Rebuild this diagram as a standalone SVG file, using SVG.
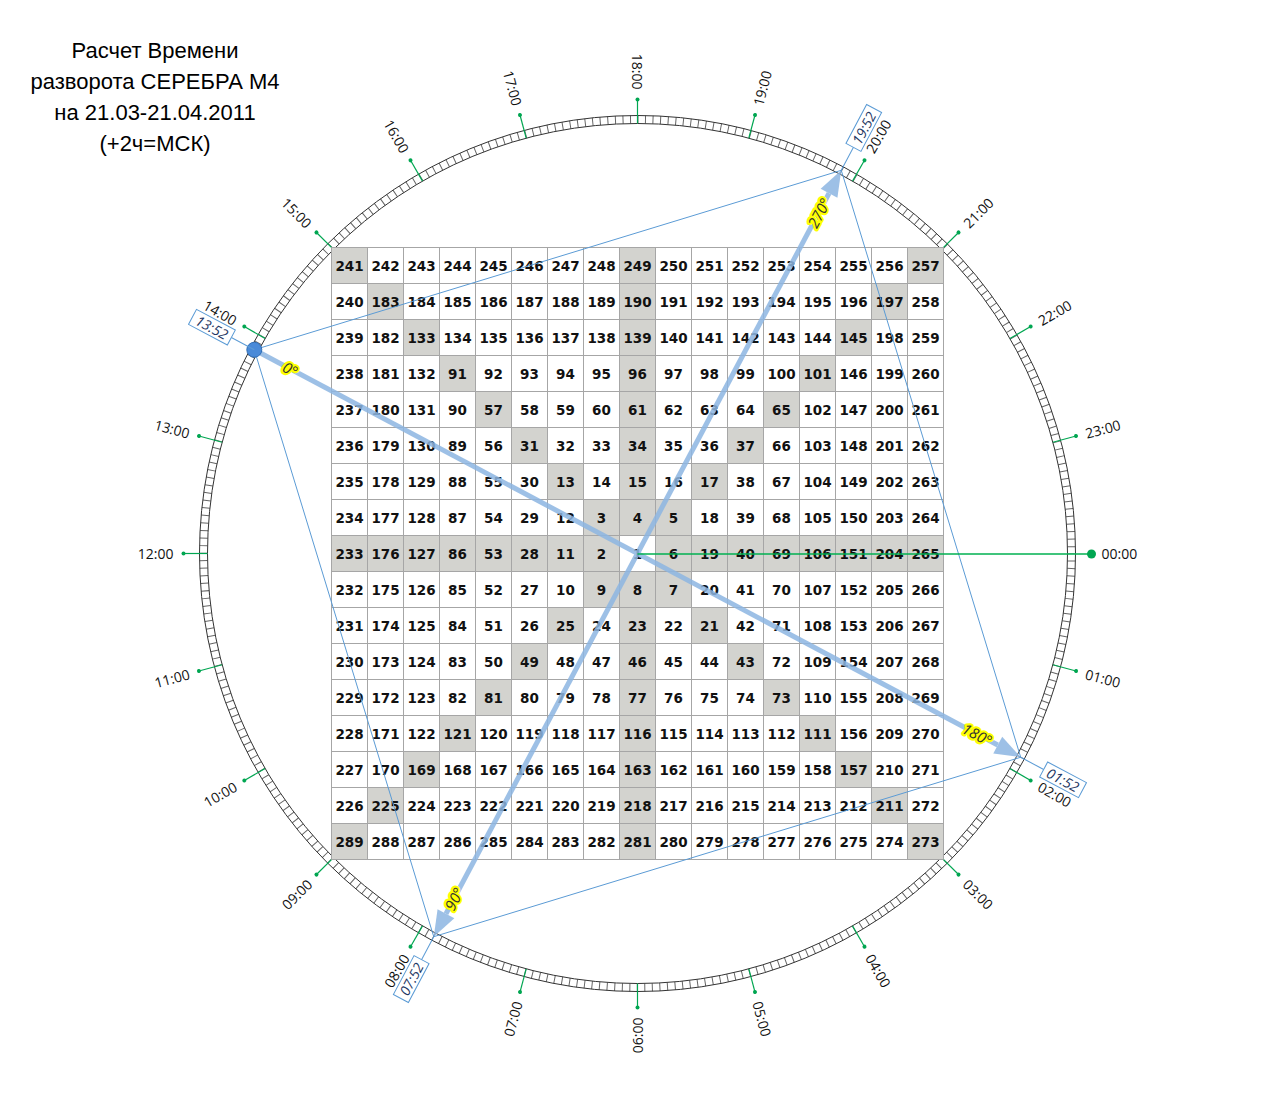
<svg xmlns="http://www.w3.org/2000/svg" width="1275" height="1108" viewBox="0 0 1275 1108">
<style>
.title{font-family:"Liberation Sans",Arial,sans-serif;font-size:22px;fill:#000;text-anchor:middle}
.num{font-family:"DejaVu Sans",Verdana,sans-serif;font-weight:bold;font-size:13.5px;fill:#111;text-anchor:middle}
.sh{fill:#d3d3cf}
.grid{fill:none;stroke:#a6a6a6;stroke-width:1}
.hr{font-family:"Open Sans","Liberation Sans",sans-serif;font-size:14px;fill:#111;dominant-baseline:central}
.hs{text-anchor:start}
.he{text-anchor:end}
.tick line{stroke:#00a651;stroke-width:1.2}
.tick circle{fill:#00a651}
.thin{stroke:#5b9bd5;stroke-width:1;fill:none}
.box rect{fill:#fff;stroke:#5b9bd5;stroke-width:1}
.box text{font-family:"Open Sans","Liberation Sans",sans-serif;font-style:italic;font-size:14px;fill:#1f3864;text-anchor:middle;dominant-baseline:central}
.thick{stroke:#8db6e2;stroke-width:5;fill:none}
.deg{font-family:"Open Sans","Liberation Sans",sans-serif;font-style:italic;font-size:15px;fill:#333;stroke:#ffff00;stroke-width:4.5;stroke-linejoin:round;paint-order:stroke;text-anchor:middle;dominant-baseline:central}
</style>
<defs>
<marker id="ah" viewBox="0 -10 26 20" refX="0" refY="0" markerWidth="26" markerHeight="20" markerUnits="userSpaceOnUse" orient="auto-start-reverse" overflow="visible">
<path d="M0,-9.5 L26,0 L0,9.5 Z" fill="#8db6e2"/>
</marker>
</defs>
<rect width="1275" height="1108" fill="#fff"/>

<g id="title">
<text class="title" x="155" y="58">Расчет Времени</text>
<text class="title" x="155" y="89">разворота СЕРЕБРА М4</text>
<text class="title" x="155" y="120">на 21.03-21.04.2011</text>
<text class="title" x="155" y="151">(+2ч=МСК)</text>
</g>

<g id="dial">
<circle cx="637.5" cy="553.5" r="434" fill="none" stroke="#666" stroke-width="8" stroke-dasharray="1 6.57473" stroke-dashoffset="0.5"/>
<circle cx="637.5" cy="553.5" r="430" fill="none" stroke="#333" stroke-width="1"/>
<circle cx="637.5" cy="553.5" r="438" fill="none" stroke="#333" stroke-width="1"/>
</g>

<g id="hour-ticks" class="tick">
<g transform="rotate(15 637.5 553.5)"><line x1="1067.5" y1="553.5" x2="1091.5" y2="553.5"/><circle cx="1091.5" cy="553.5" r="2"/></g>
<g transform="rotate(30 637.5 553.5)"><line x1="1067.5" y1="553.5" x2="1091.5" y2="553.5"/><circle cx="1091.5" cy="553.5" r="2"/></g>
<g transform="rotate(45 637.5 553.5)"><line x1="1067.5" y1="553.5" x2="1091.5" y2="553.5"/><circle cx="1091.5" cy="553.5" r="2"/></g>
<g transform="rotate(60 637.5 553.5)"><line x1="1067.5" y1="553.5" x2="1091.5" y2="553.5"/><circle cx="1091.5" cy="553.5" r="2"/></g>
<g transform="rotate(75 637.5 553.5)"><line x1="1067.5" y1="553.5" x2="1091.5" y2="553.5"/><circle cx="1091.5" cy="553.5" r="2"/></g>
<g transform="rotate(90 637.5 553.5)"><line x1="1067.5" y1="553.5" x2="1091.5" y2="553.5"/><circle cx="1091.5" cy="553.5" r="2"/></g>
<g transform="rotate(105 637.5 553.5)"><line x1="1067.5" y1="553.5" x2="1091.5" y2="553.5"/><circle cx="1091.5" cy="553.5" r="2"/></g>
<g transform="rotate(120 637.5 553.5)"><line x1="1067.5" y1="553.5" x2="1091.5" y2="553.5"/><circle cx="1091.5" cy="553.5" r="2"/></g>
<g transform="rotate(135 637.5 553.5)"><line x1="1067.5" y1="553.5" x2="1091.5" y2="553.5"/><circle cx="1091.5" cy="553.5" r="2"/></g>
<g transform="rotate(150 637.5 553.5)"><line x1="1067.5" y1="553.5" x2="1091.5" y2="553.5"/><circle cx="1091.5" cy="553.5" r="2"/></g>
<g transform="rotate(165 637.5 553.5)"><line x1="1067.5" y1="553.5" x2="1091.5" y2="553.5"/><circle cx="1091.5" cy="553.5" r="2"/></g>
<g transform="rotate(180 637.5 553.5)"><line x1="1067.5" y1="553.5" x2="1091.5" y2="553.5"/><circle cx="1091.5" cy="553.5" r="2"/></g>
<g transform="rotate(195 637.5 553.5)"><line x1="1067.5" y1="553.5" x2="1091.5" y2="553.5"/><circle cx="1091.5" cy="553.5" r="2"/></g>
<g transform="rotate(210 637.5 553.5)"><line x1="1067.5" y1="553.5" x2="1091.5" y2="553.5"/><circle cx="1091.5" cy="553.5" r="2"/></g>
<g transform="rotate(225 637.5 553.5)"><line x1="1067.5" y1="553.5" x2="1091.5" y2="553.5"/><circle cx="1091.5" cy="553.5" r="2"/></g>
<g transform="rotate(240 637.5 553.5)"><line x1="1067.5" y1="553.5" x2="1091.5" y2="553.5"/><circle cx="1091.5" cy="553.5" r="2"/></g>
<g transform="rotate(255 637.5 553.5)"><line x1="1067.5" y1="553.5" x2="1091.5" y2="553.5"/><circle cx="1091.5" cy="553.5" r="2"/></g>
<g transform="rotate(270 637.5 553.5)"><line x1="1067.5" y1="553.5" x2="1091.5" y2="553.5"/><circle cx="1091.5" cy="553.5" r="2"/></g>
<g transform="rotate(285 637.5 553.5)"><line x1="1067.5" y1="553.5" x2="1091.5" y2="553.5"/><circle cx="1091.5" cy="553.5" r="2"/></g>
<g transform="rotate(300 637.5 553.5)"><line x1="1067.5" y1="553.5" x2="1091.5" y2="553.5"/><circle cx="1091.5" cy="553.5" r="2"/></g>
<g transform="rotate(315 637.5 553.5)"><line x1="1067.5" y1="553.5" x2="1091.5" y2="553.5"/><circle cx="1091.5" cy="553.5" r="2"/></g>
<g transform="rotate(330 637.5 553.5)"><line x1="1067.5" y1="553.5" x2="1091.5" y2="553.5"/><circle cx="1091.5" cy="553.5" r="2"/></g>
<g transform="rotate(345 637.5 553.5)"><line x1="1067.5" y1="553.5" x2="1091.5" y2="553.5"/><circle cx="1091.5" cy="553.5" r="2"/></g>
</g>

<g id="hour-labels" class="hr">
<text class="hs" x="1101.5" y="553.5">00:00</text>
<text class="hs" x="1101.5" y="553.5" transform="rotate(15 637.5 553.5)">01:00</text>
<text class="hs" x="1101.5" y="553.5" transform="rotate(30 637.5 553.5)">02:00</text>
<text class="hs" x="1101.5" y="553.5" transform="rotate(45 637.5 553.5)">03:00</text>
<text class="hs" x="1101.5" y="553.5" transform="rotate(60 637.5 553.5)">04:00</text>
<text class="hs" x="1101.5" y="553.5" transform="rotate(75 637.5 553.5)">05:00</text>
<text class="he" x="173.5" y="553.5" transform="rotate(-90 637.5 553.5)">06:00</text>
<text class="he" x="173.5" y="553.5" transform="rotate(-75 637.5 553.5)">07:00</text>
<text class="he" x="173.5" y="553.5" transform="rotate(-60 637.5 553.5)">08:00</text>
<text class="he" x="173.5" y="553.5" transform="rotate(-45 637.5 553.5)">09:00</text>
<text class="he" x="173.5" y="553.5" transform="rotate(-30 637.5 553.5)">10:00</text>
<text class="he" x="173.5" y="553.5" transform="rotate(-15 637.5 553.5)">11:00</text>
<text class="he" x="173.5" y="553.5">12:00</text>
<text class="he" x="173.5" y="553.5" transform="rotate(15 637.5 553.5)">13:00</text>
<text class="he" x="173.5" y="553.5" transform="rotate(30 637.5 553.5)">14:00</text>
<text class="he" x="173.5" y="553.5" transform="rotate(45 637.5 553.5)">15:00</text>
<text class="he" x="173.5" y="553.5" transform="rotate(60 637.5 553.5)">16:00</text>
<text class="he" x="173.5" y="553.5" transform="rotate(75 637.5 553.5)">17:00</text>
<text class="he" x="173.5" y="553.5" transform="rotate(90 637.5 553.5)">18:00</text>
<text class="hs" x="1101.5" y="553.5" transform="rotate(-75 637.5 553.5)">19:00</text>
<text class="hs" x="1101.5" y="553.5" transform="rotate(-60 637.5 553.5)">20:00</text>
<text class="hs" x="1101.5" y="553.5" transform="rotate(-45 637.5 553.5)">21:00</text>
<text class="hs" x="1101.5" y="553.5" transform="rotate(-30 637.5 553.5)">22:00</text>
<text class="hs" x="1101.5" y="553.5" transform="rotate(-15 637.5 553.5)">23:00</text>
</g>

<g id="square">
<g id="shading">
<rect class="sh" x="331.5" y="535.5" width="288" height="36"/>
<rect class="sh" x="655.5" y="535.5" width="288" height="36"/>
<rect class="sh" x="619.5" y="247.5" width="36" height="288"/>
<rect class="sh" x="619.5" y="571.5" width="36" height="288"/>
<rect class="sh" x="331.5" y="247.5" width="36" height="36"/><rect class="sh" x="907.5" y="247.5" width="36" height="36"/>
<rect class="sh" x="367.5" y="283.5" width="36" height="36"/><rect class="sh" x="871.5" y="283.5" width="36" height="36"/>
<rect class="sh" x="403.5" y="319.5" width="36" height="36"/><rect class="sh" x="835.5" y="319.5" width="36" height="36"/>
<rect class="sh" x="439.5" y="355.5" width="36" height="36"/><rect class="sh" x="799.5" y="355.5" width="36" height="36"/>
<rect class="sh" x="475.5" y="391.5" width="36" height="36"/><rect class="sh" x="763.5" y="391.5" width="36" height="36"/>
<rect class="sh" x="511.5" y="427.5" width="36" height="36"/><rect class="sh" x="727.5" y="427.5" width="36" height="36"/>
<rect class="sh" x="547.5" y="463.5" width="36" height="36"/><rect class="sh" x="691.5" y="463.5" width="36" height="36"/>
<rect class="sh" x="583.5" y="499.5" width="36" height="36"/><rect class="sh" x="655.5" y="499.5" width="36" height="36"/>
<rect class="sh" x="583.5" y="571.5" width="36" height="36"/><rect class="sh" x="655.5" y="571.5" width="36" height="36"/>
<rect class="sh" x="547.5" y="607.5" width="36" height="36"/><rect class="sh" x="691.5" y="607.5" width="36" height="36"/>
<rect class="sh" x="511.5" y="643.5" width="36" height="36"/><rect class="sh" x="727.5" y="643.5" width="36" height="36"/>
<rect class="sh" x="475.5" y="679.5" width="36" height="36"/><rect class="sh" x="763.5" y="679.5" width="36" height="36"/>
<rect class="sh" x="439.5" y="715.5" width="36" height="36"/><rect class="sh" x="799.5" y="715.5" width="36" height="36"/>
<rect class="sh" x="403.5" y="751.5" width="36" height="36"/><rect class="sh" x="835.5" y="751.5" width="36" height="36"/>
<rect class="sh" x="367.5" y="787.5" width="36" height="36"/><rect class="sh" x="871.5" y="787.5" width="36" height="36"/>
<rect class="sh" x="331.5" y="823.5" width="36" height="36"/><rect class="sh" x="907.5" y="823.5" width="36" height="36"/>
</g>
<path class="grid" d="M331.5 247.5V859.5M367.5 247.5V859.5M403.5 247.5V859.5M439.5 247.5V859.5M475.5 247.5V859.5M511.5 247.5V859.5M547.5 247.5V859.5M583.5 247.5V859.5M619.5 247.5V859.5M655.5 247.5V859.5M691.5 247.5V859.5M727.5 247.5V859.5M763.5 247.5V859.5M799.5 247.5V859.5M835.5 247.5V859.5M871.5 247.5V859.5M907.5 247.5V859.5M943.5 247.5V859.5M331.5 247.5H943.5M331.5 283.5H943.5M331.5 319.5H943.5M331.5 355.5H943.5M331.5 391.5H943.5M331.5 427.5H943.5M331.5 463.5H943.5M331.5 499.5H943.5M331.5 535.5H943.5M331.5 571.5H943.5M331.5 607.5H943.5M331.5 643.5H943.5M331.5 679.5H943.5M331.5 715.5H943.5M331.5 751.5H943.5M331.5 787.5H943.5M331.5 823.5H943.5M331.5 859.5H943.5"/>
<g id="numbers" class="num">
<text y="270.5"><tspan x="349.5">241</tspan><tspan x="385.5">242</tspan><tspan x="421.5">243</tspan><tspan x="457.5">244</tspan><tspan x="493.5">245</tspan><tspan x="529.5">246</tspan><tspan x="565.5">247</tspan><tspan x="601.5">248</tspan><tspan x="637.5">249</tspan><tspan x="673.5">250</tspan><tspan x="709.5">251</tspan><tspan x="745.5">252</tspan><tspan x="781.5">253</tspan><tspan x="817.5">254</tspan><tspan x="853.5">255</tspan><tspan x="889.5">256</tspan><tspan x="925.5">257</tspan></text>
<text y="306.5"><tspan x="349.5">240</tspan><tspan x="385.5">183</tspan><tspan x="421.5">184</tspan><tspan x="457.5">185</tspan><tspan x="493.5">186</tspan><tspan x="529.5">187</tspan><tspan x="565.5">188</tspan><tspan x="601.5">189</tspan><tspan x="637.5">190</tspan><tspan x="673.5">191</tspan><tspan x="709.5">192</tspan><tspan x="745.5">193</tspan><tspan x="781.5">194</tspan><tspan x="817.5">195</tspan><tspan x="853.5">196</tspan><tspan x="889.5">197</tspan><tspan x="925.5">258</tspan></text>
<text y="342.5"><tspan x="349.5">239</tspan><tspan x="385.5">182</tspan><tspan x="421.5">133</tspan><tspan x="457.5">134</tspan><tspan x="493.5">135</tspan><tspan x="529.5">136</tspan><tspan x="565.5">137</tspan><tspan x="601.5">138</tspan><tspan x="637.5">139</tspan><tspan x="673.5">140</tspan><tspan x="709.5">141</tspan><tspan x="745.5">142</tspan><tspan x="781.5">143</tspan><tspan x="817.5">144</tspan><tspan x="853.5">145</tspan><tspan x="889.5">198</tspan><tspan x="925.5">259</tspan></text>
<text y="378.5"><tspan x="349.5">238</tspan><tspan x="385.5">181</tspan><tspan x="421.5">132</tspan><tspan x="457.5">91</tspan><tspan x="493.5">92</tspan><tspan x="529.5">93</tspan><tspan x="565.5">94</tspan><tspan x="601.5">95</tspan><tspan x="637.5">96</tspan><tspan x="673.5">97</tspan><tspan x="709.5">98</tspan><tspan x="745.5">99</tspan><tspan x="781.5">100</tspan><tspan x="817.5">101</tspan><tspan x="853.5">146</tspan><tspan x="889.5">199</tspan><tspan x="925.5">260</tspan></text>
<text y="414.5"><tspan x="349.5">237</tspan><tspan x="385.5">180</tspan><tspan x="421.5">131</tspan><tspan x="457.5">90</tspan><tspan x="493.5">57</tspan><tspan x="529.5">58</tspan><tspan x="565.5">59</tspan><tspan x="601.5">60</tspan><tspan x="637.5">61</tspan><tspan x="673.5">62</tspan><tspan x="709.5">63</tspan><tspan x="745.5">64</tspan><tspan x="781.5">65</tspan><tspan x="817.5">102</tspan><tspan x="853.5">147</tspan><tspan x="889.5">200</tspan><tspan x="925.5">261</tspan></text>
<text y="450.5"><tspan x="349.5">236</tspan><tspan x="385.5">179</tspan><tspan x="421.5">130</tspan><tspan x="457.5">89</tspan><tspan x="493.5">56</tspan><tspan x="529.5">31</tspan><tspan x="565.5">32</tspan><tspan x="601.5">33</tspan><tspan x="637.5">34</tspan><tspan x="673.5">35</tspan><tspan x="709.5">36</tspan><tspan x="745.5">37</tspan><tspan x="781.5">66</tspan><tspan x="817.5">103</tspan><tspan x="853.5">148</tspan><tspan x="889.5">201</tspan><tspan x="925.5">262</tspan></text>
<text y="486.5"><tspan x="349.5">235</tspan><tspan x="385.5">178</tspan><tspan x="421.5">129</tspan><tspan x="457.5">88</tspan><tspan x="493.5">55</tspan><tspan x="529.5">30</tspan><tspan x="565.5">13</tspan><tspan x="601.5">14</tspan><tspan x="637.5">15</tspan><tspan x="673.5">16</tspan><tspan x="709.5">17</tspan><tspan x="745.5">38</tspan><tspan x="781.5">67</tspan><tspan x="817.5">104</tspan><tspan x="853.5">149</tspan><tspan x="889.5">202</tspan><tspan x="925.5">263</tspan></text>
<text y="522.5"><tspan x="349.5">234</tspan><tspan x="385.5">177</tspan><tspan x="421.5">128</tspan><tspan x="457.5">87</tspan><tspan x="493.5">54</tspan><tspan x="529.5">29</tspan><tspan x="565.5">12</tspan><tspan x="601.5">3</tspan><tspan x="637.5">4</tspan><tspan x="673.5">5</tspan><tspan x="709.5">18</tspan><tspan x="745.5">39</tspan><tspan x="781.5">68</tspan><tspan x="817.5">105</tspan><tspan x="853.5">150</tspan><tspan x="889.5">203</tspan><tspan x="925.5">264</tspan></text>
<text y="558.5"><tspan x="349.5">233</tspan><tspan x="385.5">176</tspan><tspan x="421.5">127</tspan><tspan x="457.5">86</tspan><tspan x="493.5">53</tspan><tspan x="529.5">28</tspan><tspan x="565.5">11</tspan><tspan x="601.5">2</tspan><tspan x="637.5">1</tspan><tspan x="673.5">6</tspan><tspan x="709.5">19</tspan><tspan x="745.5">40</tspan><tspan x="781.5">69</tspan><tspan x="817.5">106</tspan><tspan x="853.5">151</tspan><tspan x="889.5">204</tspan><tspan x="925.5">265</tspan></text>
<text y="594.5"><tspan x="349.5">232</tspan><tspan x="385.5">175</tspan><tspan x="421.5">126</tspan><tspan x="457.5">85</tspan><tspan x="493.5">52</tspan><tspan x="529.5">27</tspan><tspan x="565.5">10</tspan><tspan x="601.5">9</tspan><tspan x="637.5">8</tspan><tspan x="673.5">7</tspan><tspan x="709.5">20</tspan><tspan x="745.5">41</tspan><tspan x="781.5">70</tspan><tspan x="817.5">107</tspan><tspan x="853.5">152</tspan><tspan x="889.5">205</tspan><tspan x="925.5">266</tspan></text>
<text y="630.5"><tspan x="349.5">231</tspan><tspan x="385.5">174</tspan><tspan x="421.5">125</tspan><tspan x="457.5">84</tspan><tspan x="493.5">51</tspan><tspan x="529.5">26</tspan><tspan x="565.5">25</tspan><tspan x="601.5">24</tspan><tspan x="637.5">23</tspan><tspan x="673.5">22</tspan><tspan x="709.5">21</tspan><tspan x="745.5">42</tspan><tspan x="781.5">71</tspan><tspan x="817.5">108</tspan><tspan x="853.5">153</tspan><tspan x="889.5">206</tspan><tspan x="925.5">267</tspan></text>
<text y="666.5"><tspan x="349.5">230</tspan><tspan x="385.5">173</tspan><tspan x="421.5">124</tspan><tspan x="457.5">83</tspan><tspan x="493.5">50</tspan><tspan x="529.5">49</tspan><tspan x="565.5">48</tspan><tspan x="601.5">47</tspan><tspan x="637.5">46</tspan><tspan x="673.5">45</tspan><tspan x="709.5">44</tspan><tspan x="745.5">43</tspan><tspan x="781.5">72</tspan><tspan x="817.5">109</tspan><tspan x="853.5">154</tspan><tspan x="889.5">207</tspan><tspan x="925.5">268</tspan></text>
<text y="702.5"><tspan x="349.5">229</tspan><tspan x="385.5">172</tspan><tspan x="421.5">123</tspan><tspan x="457.5">82</tspan><tspan x="493.5">81</tspan><tspan x="529.5">80</tspan><tspan x="565.5">79</tspan><tspan x="601.5">78</tspan><tspan x="637.5">77</tspan><tspan x="673.5">76</tspan><tspan x="709.5">75</tspan><tspan x="745.5">74</tspan><tspan x="781.5">73</tspan><tspan x="817.5">110</tspan><tspan x="853.5">155</tspan><tspan x="889.5">208</tspan><tspan x="925.5">269</tspan></text>
<text y="738.5"><tspan x="349.5">228</tspan><tspan x="385.5">171</tspan><tspan x="421.5">122</tspan><tspan x="457.5">121</tspan><tspan x="493.5">120</tspan><tspan x="529.5">119</tspan><tspan x="565.5">118</tspan><tspan x="601.5">117</tspan><tspan x="637.5">116</tspan><tspan x="673.5">115</tspan><tspan x="709.5">114</tspan><tspan x="745.5">113</tspan><tspan x="781.5">112</tspan><tspan x="817.5">111</tspan><tspan x="853.5">156</tspan><tspan x="889.5">209</tspan><tspan x="925.5">270</tspan></text>
<text y="774.5"><tspan x="349.5">227</tspan><tspan x="385.5">170</tspan><tspan x="421.5">169</tspan><tspan x="457.5">168</tspan><tspan x="493.5">167</tspan><tspan x="529.5">166</tspan><tspan x="565.5">165</tspan><tspan x="601.5">164</tspan><tspan x="637.5">163</tspan><tspan x="673.5">162</tspan><tspan x="709.5">161</tspan><tspan x="745.5">160</tspan><tspan x="781.5">159</tspan><tspan x="817.5">158</tspan><tspan x="853.5">157</tspan><tspan x="889.5">210</tspan><tspan x="925.5">271</tspan></text>
<text y="810.5"><tspan x="349.5">226</tspan><tspan x="385.5">225</tspan><tspan x="421.5">224</tspan><tspan x="457.5">223</tspan><tspan x="493.5">222</tspan><tspan x="529.5">221</tspan><tspan x="565.5">220</tspan><tspan x="601.5">219</tspan><tspan x="637.5">218</tspan><tspan x="673.5">217</tspan><tspan x="709.5">216</tspan><tspan x="745.5">215</tspan><tspan x="781.5">214</tspan><tspan x="817.5">213</tspan><tspan x="853.5">212</tspan><tspan x="889.5">211</tspan><tspan x="925.5">272</tspan></text>
<text y="846.5"><tspan x="349.5">289</tspan><tspan x="385.5">288</tspan><tspan x="421.5">287</tspan><tspan x="457.5">286</tspan><tspan x="493.5">285</tspan><tspan x="529.5">284</tspan><tspan x="565.5">283</tspan><tspan x="601.5">282</tspan><tspan x="637.5">281</tspan><tspan x="673.5">280</tspan><tspan x="709.5">279</tspan><tspan x="745.5">278</tspan><tspan x="781.5">277</tspan><tspan x="817.5">276</tspan><tspan x="853.5">275</tspan><tspan x="889.5">274</tspan><tspan x="925.5">273</tspan></text>
</g>
</g>

<g id="connectors">
<g id="thick-arrows" opacity="0.85">
<path class="thick" d="M254.3,349.75 L997.74,745.04" marker-end="url(#ah)"/>
<path class="thick" d="M829.04,193.26 L445.96,913.74" marker-start="url(#ah)" marker-end="url(#ah)"/>
</g>
<path id="quad" class="thin" d="M254.3,349.75 L841.25,170.3 L1020.7,757.25 L433.75,936.7 Z"/>
<g id="zero-line">
<line x1="637.5" y1="554" x2="1091.5" y2="554" stroke="#00b050" stroke-width="1.4"/>
</g>
</g>

<g id="point-0000"><circle cx="1091.5" cy="554" r="4.5" fill="#00a651"/></g>
<g id="point-1352"><circle cx="254.3" cy="349.75" r="7.5" fill="#4a8ad8" stroke="#2f6db5" stroke-width="1"/></g>

<g id="box-1352" class="box" transform="rotate(28 637.5 553.5)">
<line class="thin" x1="203.5" y1="553.5" x2="177.5" y2="553.5"/>
<rect x="133.5" y="545" width="44" height="17"/>
<text x="155.5" y="553.5">13:52</text>
</g>
<g id="box-1952" class="box" transform="rotate(-62 637.5 553.5)">
<line class="thin" x1="1071.5" y1="553.5" x2="1097.5" y2="553.5"/>
<rect x="1097.5" y="545" width="44" height="17"/>
<text x="1119.5" y="553.5">19:52</text>
</g>
<g id="box-0152" class="box" transform="rotate(28 637.5 553.5)">
<line class="thin" x1="1071.5" y1="553.5" x2="1097.5" y2="553.5"/>
<rect x="1097.5" y="545" width="44" height="17"/>
<text x="1119.5" y="553.5">01:52</text>
</g>
<g id="box-0752" class="box" transform="rotate(-62 637.5 553.5)">
<line class="thin" x1="203.5" y1="553.5" x2="177.5" y2="553.5"/>
<rect x="133.5" y="545" width="44" height="17"/>
<text x="155.5" y="553.5">07:52</text>
</g>

<g id="degree-labels" class="deg">
<text x="290.5" y="369" transform="rotate(28 290.5 369)">0°</text>
<text x="977.4" y="734.2" transform="rotate(28 977.4 734.2)">180°</text>
<text x="818.7" y="212.7" transform="rotate(-62 818.7 212.7)">270°</text>
<text x="453.9" y="898.7" transform="rotate(-62 453.9 898.7)">90°</text>
</g>
</svg>
